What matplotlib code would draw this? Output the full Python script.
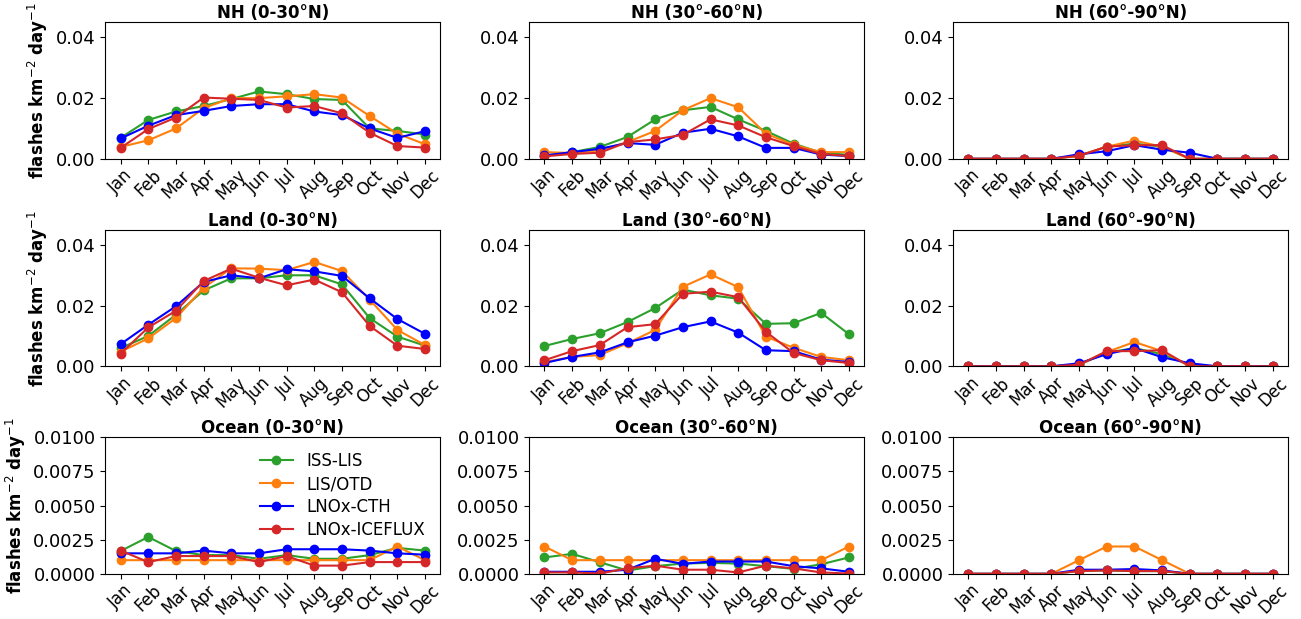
import numpy as np
from matplotlib import pyplot as plt

months = ['Jan', 'Feb', 'Mar', 'Apr', 'May', 'Jun', 'Jul', 'Aug', 'Sep', 'Oct', 'Nov', 'Dec']
series_names = ['ISS-LIS', 'LIS/OTD', 'LNOx-CTH', 'LNOx-ICEFLUX']
titles = ['NH (0-30°N)', 'NH (30°-60°N)', 'NH (60°-90°N)',
          'Land (0-30°N)', 'Land (30°-60°N)', 'Land (60°-90°N)',
          'Ocean (0-30°N)', 'Ocean (30°-60°N)', 'Ocean (60°-90°N)']

# flash rates, flashes km-2 day-1, one list per series (ISS-LIS, LIS/OTD, CTH, ICEFLUX)
nh_0_30 = [
    [0.0069, 0.0128, 0.0156, 0.0174, 0.0197, 0.0222, 0.0213, 0.0197, 0.0194, 0.0100, 0.0092, 0.0080],
    [0.0039, 0.0061, 0.0100, 0.0167, 0.0200, 0.0200, 0.0206, 0.0213, 0.0202, 0.0141, 0.0083, 0.0048],
    [0.0067, 0.0109, 0.0144, 0.0158, 0.0174, 0.0180, 0.0180, 0.0156, 0.0144, 0.0100, 0.0069, 0.0091],
    [0.0036, 0.0098, 0.0136, 0.0202, 0.0198, 0.0194, 0.0169, 0.0174, 0.0150, 0.0086, 0.0042, 0.0037],
]
nh_30_60 = [
    [0.0010, 0.0022, 0.0039, 0.0072, 0.0130, 0.0160, 0.0171, 0.0130, 0.0092, 0.0050, 0.0020, 0.0013],
    [0.0022, 0.0019, 0.0028, 0.0055, 0.0092, 0.0160, 0.0200, 0.0170, 0.0083, 0.0046, 0.0022, 0.0022],
    [0.0011, 0.0022, 0.0033, 0.0052, 0.0046, 0.0086, 0.0099, 0.0074, 0.0036, 0.0036, 0.0014, 0.0009],
    [0.0008, 0.0016, 0.0020, 0.0055, 0.0064, 0.0079, 0.0130, 0.0110, 0.0071, 0.0042, 0.0016, 0.0009],
]
nh_60_90 = [
    [0.0, 0.0, 0.0, 0.0, 0.0010, 0.0040, 0.0050, 0.0040, 0.0, 0.0, 0.0, 0.0],
    [0.0, 0.0, 0.0, 0.0, 0.0010, 0.0040, 0.0060, 0.0040, 0.0, 0.0, 0.0, 0.0],
    [0.0, 0.0, 0.0, 0.0, 0.0015, 0.0025, 0.0045, 0.0030, 0.0020, 0.0, 0.0, 0.0],
    [0.0, 0.0, 0.0, 0.0, 0.0010, 0.0040, 0.0045, 0.0045, 0.0, 0.0, 0.0, 0.0],
]
land_0_30 = [
    [0.0060, 0.0100, 0.0170, 0.0250, 0.0290, 0.0290, 0.0300, 0.0300, 0.0270, 0.0159, 0.0098, 0.0068],
    [0.0048, 0.0092, 0.0159, 0.0259, 0.0323, 0.0322, 0.0317, 0.0344, 0.0314, 0.0220, 0.0120, 0.0070],
    [0.0073, 0.0137, 0.0198, 0.0278, 0.0300, 0.0290, 0.0320, 0.0313, 0.0298, 0.0224, 0.0156, 0.0107],
    [0.0042, 0.0128, 0.0183, 0.0281, 0.0322, 0.0292, 0.0267, 0.0286, 0.0244, 0.0133, 0.0068, 0.0057],
]
land_30_60 = [
    [0.0067, 0.0090, 0.0109, 0.0146, 0.0192, 0.0253, 0.0234, 0.0223, 0.0140, 0.0142, 0.0176, 0.0106],
    [0.0014, 0.0031, 0.0037, 0.0076, 0.0120, 0.0262, 0.0303, 0.0261, 0.0098, 0.0061, 0.0031, 0.0020],
    [0.0011, 0.0031, 0.0046, 0.0079, 0.0101, 0.0129, 0.0148, 0.0111, 0.0053, 0.0050, 0.0022, 0.0014],
    [0.0020, 0.0050, 0.0070, 0.0129, 0.0139, 0.0239, 0.0246, 0.0228, 0.0114, 0.0044, 0.0020, 0.0011],
]
land_60_90 = [
    [0.0, 0.0, 0.0, 0.0, 0.0005, 0.0045, 0.0060, 0.0040, 0.0005, 0.0, 0.0, 0.0],
    [0.0, 0.0, 0.0, 0.0, 0.0005, 0.0047, 0.0080, 0.0050, 0.0, 0.0, 0.0, 0.0],
    [0.0, 0.0, 0.0, 0.0, 0.0010, 0.0040, 0.0060, 0.0030, 0.0010, 0.0, 0.0, 0.0],
    [0.0, 0.0, 0.0, 0.0, 0.0005, 0.0050, 0.0050, 0.0053, 0.0, 0.0, 0.0, 0.0],
]
ocean_0_30 = [
    [0.00167, 0.0027, 0.00167, 0.00137, 0.00137, 0.0011, 0.00137, 0.0011, 0.0011, 0.00137, 0.0019, 0.0017],
    [0.0010, 0.0010, 0.0010, 0.0010, 0.0010, 0.0010, 0.0010, 0.0010, 0.0010, 0.0010, 0.0020, 0.0010],
    [0.0015, 0.0015, 0.0015, 0.0017, 0.0015, 0.0015, 0.0018, 0.0018, 0.0018, 0.0017, 0.0015, 0.0014],
    [0.0017, 0.00086, 0.0013, 0.0013, 0.0013, 0.00086, 0.0013, 0.0006, 0.0006, 0.00086, 0.00086, 0.00086],
]
ocean_30_60 = [
    [0.0012, 0.00146, 0.00085, 0.00024, 0.00056, 0.00075, 0.0008, 0.00075, 0.00056, 0.00036, 0.0007, 0.0012],
    [0.0020, 0.0010, 0.0010, 0.0010, 0.0010, 0.0010, 0.0010, 0.0010, 0.0010, 0.0010, 0.0010, 0.0020],
    [0.00015, 0.00015, 0.00015, 0.0003, 0.0011, 0.00073, 0.0009, 0.0009, 0.0009, 0.00056, 0.0004, 0.00015],
    [0.0001, 0.0001, 0.00002, 0.0004, 0.0006, 0.0003, 0.0003, 0.0001, 0.0006, 0.0004, 0.0001, 0.00002],
]
ocean_60_90 = [
    [0.0, 0.0, 0.0, 0.0, 0.0002, 0.00025, 0.0002, 0.0002, 0.0, 0.0, 0.0, 0.0],
    [0.0, 0.0, 0.0, 0.0, 0.0010, 0.0020, 0.0020, 0.0010, 0.0, 0.0, 0.0, 0.0],
    [0.0, 0.0, 0.0, 0.0, 0.0003, 0.0003, 0.00035, 0.00025, 0.0, 0.0, 0.0, 0.0],
    [0.0, 0.0, 0.0, 0.0, 0.0002, 0.00025, 0.0002, 0.0002, 0.0, 0.0, 0.0, 0.0],
]

panels = [nh_0_30, nh_30_60, nh_60_90,
          land_0_30, land_30_60, land_60_90,
          ocean_0_30, ocean_30_60, ocean_60_90]
colors = ['#2ca02c', '#ff7f0e', 'blue', '#d62728']

fig, axes = plt.subplots(3, 3, figsize=(13.01, 6.19), dpi=100)
plt.subplots_adjust(left=0.081, right=0.99, top=0.964, bottom=0.073, wspace=0.266, hspace=0.52)

x = np.arange(len(months))
for i, ax in enumerate(axes.flat):
    for vals, name, c in zip(panels[i], series_names, colors):
        ax.plot(x, vals, '-o', color=c, label=name, markersize=6, linewidth=1.5)
    ax.set_title(titles[i], fontsize=12, fontweight='bold', pad=3)
    ax.set_xticks(x)
    ax.set_xticklabels(months, rotation=45, fontsize=12)
    ax.tick_params(axis='x', pad=2)
    if i < 6:
        ax.set_ylim(0, 0.045)
        ax.set_yticks([0, 0.02, 0.04])
        ax.set_yticklabels(['0.00', '0.02', '0.04'])
    else:
        ax.set_ylim(0, 0.01)
        ax.set_yticks([0, 0.0025, 0.005, 0.0075, 0.01])
        ax.set_yticklabels(['0.0000', '0.0025', '0.0050', '0.0075', '0.0100'])
    ax.tick_params(axis='y', labelsize=13)
    if i % 3 == 0:
        ax.set_ylabel('flashes km$^{-2}$ day$^{-1}$', fontsize=12, fontweight='bold')

axes[2, 0].legend(loc='upper right', frameon=False, fontsize=12, handlelength=2.0,
                  labelspacing=0.3)

plt.savefig('out.png', dpi=100)
